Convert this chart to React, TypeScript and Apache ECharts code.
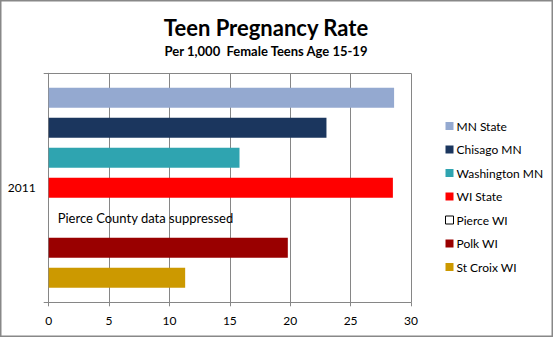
import React, { useEffect, useRef } from "react";
import * as echarts from "echarts";

const categories = ["2011"];
const seriesNames = ["MN State", "Chisago MN", "Washington MN", "WI State", "Pierce WI", "Polk WI", "St Croix WI"];
const seriesValues = [[28.6], [23.0], [15.8], [28.5], [0], [19.8], [11.3]];
const seriesColors = ["#94A9D0", "#1B365E", "#2FA4B0", "#FF0000", "#FFFFFF", "#990000", "#CC9900"];
const xTicks = { min: 0, max: 30, interval: 5 };
const pierceNote = "Pierce County data suppressed";

const FONT = "Lato, 'Open Sans', sans-serif";
const GRID = "#868686";

export default function App() {
  const ref = useRef<HTMLDivElement>(null);
  useEffect(() => {
    if (!ref.current) return;
    const chart = echarts.init(ref.current, null, { renderer: "svg" });
    const series = seriesNames.map((name, i) => ({
      name,
      type: "bar",
      data: seriesValues[i],
      barWidth: 20,
      barGap: "50%",
      itemStyle: { color: seriesColors[i] },
      label:
        name === "Pierce WI"
          ? {
              show: true,
              position: "right",
              distance: 9,
              formatter: pierceNote,
              color: "#000",
              fontFamily: FONT,
              fontSize: 13,
            }
          : { show: false },
    }));
    chart.setOption({
      animation: false,
      backgroundColor: "#fff",
      title: {
        text: "Teen Pregnancy Rate",
        subtext: "Per 1,000  Female Teens Age 15-19",
        left: 261,
        textAlign: "center",
        top: 11,
        itemGap: 6,
        textStyle: { fontFamily: FONT, fontWeight: "bold", fontSize: 22, color: "#000" },
        subtextStyle: { fontFamily: FONT, fontWeight: "bold", fontSize: 13, color: "#000" },
      },
      legend: {
        orient: "vertical",
        left: 440,
        top: 115,
        itemWidth: 8,
        itemHeight: 8,
        itemGap: 11.5,
        icon: "rect",
        textStyle: { fontFamily: FONT, fontSize: 12, color: "#000", padding: [0, 0, 0, -2] },
        data: seriesNames.map((n) =>
          n === "Pierce WI"
            ? { name: n, itemStyle: { color: "#fff", borderColor: "#000", borderWidth: 1 } }
            : { name: n }
        ),
      },
      grid: { left: 48.7, right: 143, top: 73.3, bottom: 37.7, containLabel: false },
      xAxis: {
        type: "value",
        min: xTicks.min,
        max: xTicks.max,
        interval: xTicks.interval,
        axisLine: { show: true, lineStyle: { color: GRID, width: 1 } },
        axisTick: { show: true, length: 4, lineStyle: { color: GRID } },
        splitLine: { show: true, lineStyle: { color: GRID, width: 1 } },
        axisLabel: { fontFamily: FONT, fontSize: 12, color: "#000", margin: 12 },
      },
      yAxis: {
        type: "category",
        data: categories,
        inverse: true,
        axisLine: { show: true, lineStyle: { color: GRID, width: 1 } },
        axisTick: { show: true, length: 5, lineStyle: { color: GRID } },
        splitLine: { show: true, lineStyle: { color: GRID, width: 1 } },
        axisLabel: { fontFamily: FONT, fontSize: 12, color: "#000", margin: 13 },
      },
      graphic: [
        {
          type: "rect",
          shape: { x: 0.75, y: 0.75, width: 551.5, height: 335.5 },
          style: { fill: "none", stroke: "#888", lineWidth: 1.5 },
          silent: true,
        },
      ],
      series,
    });
    return () => chart.dispose();
  }, []);
  return (
    <div
      ref={ref}
      style={{ position: "absolute", left: 0, top: 0, width: 554, height: 340 }}
    />
  );
}
